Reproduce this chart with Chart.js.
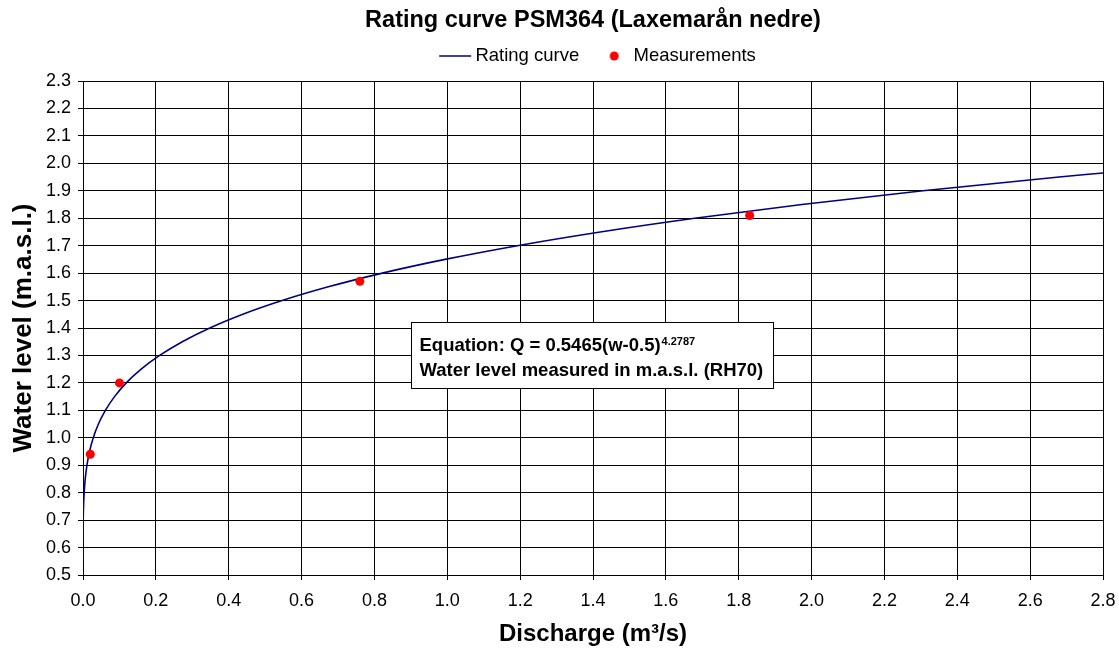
<!DOCTYPE html>
<html>
<head>
<meta charset="utf-8">
<script src="https://cdn.jsdelivr.net/npm/chart.js@4.4.1/dist/chart.umd.min.js"></script>
<style>
  html, body { margin: 0; padding: 0; background: #fff; }
  #wrap { width: 1119px; height: 651px; position: relative; }
</style>
</head>
<body>
<div id="wrap"><canvas id="c" width="1119" height="651"></canvas></div>
<script>
// Rating curve: discharge (m3/s) vs water level (m.a.s.l.)
const curveQ = [0.000003, 0.00003, 0.00016, 0.00056, 0.00145, 0.00317, 0.00612, 0.01084, 0.01794, 0.02815,
                0.04232, 0.0614, 0.08653, 0.1188, 0.1596, 0.2103, 0.2726, 0.3482, 0.4388, 0.5465,
                0.6734, 0.8217, 0.9938, 1.1922, 1.4199, 1.6792, 1.9734, 2.3059, 2.6794, 2.8];
const curveW = [0.55, 0.60, 0.65, 0.70, 0.75, 0.80, 0.85, 0.90, 0.95, 1.00,
                1.05, 1.10, 1.15, 1.20, 1.25, 1.30, 1.35, 1.40, 1.45, 1.50,
                1.55, 1.60, 1.65, 1.70, 1.75, 1.80, 1.85, 1.90, 1.95, 1.965];
// Measurements
const measQ = [0.02, 0.10, 0.76, 1.83];
const measW = [0.94, 1.20, 1.57, 1.81];
// Axis settings
const xMin = 0, xMax = 2.8, xStep = 0.2;
const yMin = 0.5, yMax = 2.3, yStep = 0.1;
const titleText = 'Rating curve PSM364 (Laxemarån nedre)';
const seriesNames = ['Rating curve', 'Measurements'];
const xTitle = 'Discharge (m³/s)';
const yTitle = 'Water level (m.a.s.l.)';
const noteLine1 = 'Equation: Q = 0.5465(w-0.5)';
const noteSup = '4.2787';
const noteLine2 = 'Water level measured in m.a.s.l. (RH70)';
const noteAnchor = [0.9, 1.422];

const FONT = 'Arial, "Liberation Sans", sans-serif';

// legend marker images (box width 36, text starts 45px after box left)
function lineMarker() {
  const c = document.createElement('canvas'); c.width = 36 + 2 * 6; c.height = 4;
  const g = c.getContext('2d'); g.strokeStyle = '#000080'; g.lineWidth = 1.5;
  g.beginPath(); g.moveTo(6 + 9, 2); g.lineTo(6 + 41, 2); g.stroke(); return c;
}
function dotMarker() {
  const c = document.createElement('canvas'); c.width = 36; c.height = 10;
  const g = c.getContext('2d'); g.fillStyle = '#ff0000';
  g.beginPath(); g.arc(26, 5, 4.5, 0, Math.PI * 2); g.fill(); return c;
}
const legendMarkers = [lineMarker(), dotMarker()];

const legendGap = {
  id: 'legendGap',
  beforeLayout(chart) {
    const lg = chart.legend;
    if (lg && !lg._gapPatched) {
      const fit = lg.fit;
      lg.fit = function () { fit.call(this); this.height += 5.75; };
      lg._gapPatched = true;
    }
  }
};

const notePlugin = {
  id: 'note',
  afterDatasetsDraw(chart) {
    const ctx = chart.ctx;
    const x = chart.scales.x.getPixelForValue(noteAnchor[0]);
    const y = chart.scales.y.getPixelForValue(noteAnchor[1]);
    ctx.save();
    ctx.font = 'bold 18.5px ' + FONT;
    const w1 = ctx.measureText(noteLine1).width;
    const w2 = ctx.measureText(noteLine2).width;
    ctx.font = 'bold 11px ' + FONT;
    const ws = ctx.measureText(noteSup).width;
    const boxW = Math.round(Math.max(w1 + ws, w2) + 18);
    const boxH = 66;
    const bx = Math.round(x) + 0.5, by = Math.round(y) + 0.5;
    ctx.fillStyle = '#fff';
    ctx.fillRect(bx, by, boxW, boxH);
    ctx.strokeStyle = '#000'; ctx.lineWidth = 1;
    ctx.strokeRect(bx, by, boxW, boxH);
    ctx.fillStyle = '#000';
    ctx.textBaseline = 'middle';
    ctx.font = 'bold 18.5px ' + FONT;
    ctx.fillText(noteLine1, bx + 8, by + 23);
    ctx.fillText(noteLine2, bx + 8, by + 48);
    ctx.font = 'bold 11px ' + FONT;
    ctx.fillText(noteSup, bx + 8 + w1 + 1, by + 19.5);
    ctx.restore();
  }
};

const chart = new Chart(document.getElementById('c'), {
  type: 'scatter',
  data: {
    datasets: [
      {
        label: seriesNames[0],
        data: curveQ.map((q, i) => ({ x: q, y: curveW[i] })),
        showLine: true,
        borderColor: '#000080',
        backgroundColor: '#000080',
        borderWidth: 1.6,
        pointRadius: 0,
        pointHoverRadius: 0,
        cubicInterpolationMode: 'monotone',
        order: 2
      },
      {
        label: seriesNames[1],
        data: measQ.map((q, i) => ({ x: q, y: measW[i] })),
        showLine: false,
        borderColor: '#ff0000',
        backgroundColor: '#ff0000',
        pointRadius: 4.5,
        pointBorderWidth: 0,
        pointStyle: 'circle',
        order: 1
      }
    ]
  },
  options: {
    responsive: false,
    animation: false,
    events: [],
    layout: { padding: { left: 0, right: 16, top: 0, bottom: 0 } },
    plugins: {
      title: {
        display: true,
        fullSize: false,
        text: titleText,
        color: '#000',
        font: { family: FONT, size: 23.5, weight: 'bold' },
        padding: { top: 6, bottom: 3.55 }
      },
      legend: {
        display: true,
        fullSize: false,
        labels: {
          usePointStyle: true,
          pointStyleWidth: 36,
          padding: 9,
          color: '#000',
          font: { family: FONT, size: 18.5 },
          generateLabels(chart) {
            return chart.data.datasets.map((ds, i) => ({
              text: ds.label,
              pointStyle: legendMarkers[i],
              fillStyle: ds.backgroundColor,
              strokeStyle: ds.borderColor,
              lineWidth: 0,
              hidden: false,
              datasetIndex: i,
              fontColor: '#000'
            }));
          }
        }
      },
      tooltip: { enabled: false }
    },
    scales: {
      x: {
        type: 'linear',
        min: xMin, max: xMax,
        afterFit(s) { s.height = 76; s.paddingRight = 0; },
        ticks: {
          stepSize: xStep,
          color: '#000',
          font: { family: FONT, size: 18 },
          padding: 10,
          maxRotation: 0,
          callback: v => v.toFixed(1)
        },
        grid: { color: '#000', lineWidth: 1, tickLength: 5, drawTicks: true },
        border: { color: '#000', width: 1 },
        title: {
          display: true, text: xTitle, color: '#000',
          font: { family: FONT, size: 24, weight: 'bold' },
          padding: { top: 0, bottom: 2 }
        }
      },
      y: {
        type: 'linear',
        min: yMin, max: yMax,
        afterFit(s) { s.width = 83; },
        ticks: {
          stepSize: yStep,
          color: '#000',
          font: { family: FONT, size: 18 },
          padding: 7,
          callback: v => v.toFixed(1)
        },
        grid: { color: '#000', lineWidth: 1, tickLength: 5, drawTicks: true },
        border: { color: '#000', width: 1 },
        title: {
          display: true, text: yTitle, color: '#000',
          font: { family: FONT, size: 26, weight: 'bold' },
          padding: { top: 8, bottom: 0 }
        }
      }
    }
  },
  plugins: [legendGap, notePlugin]
});
</script>
</body>
</html>
